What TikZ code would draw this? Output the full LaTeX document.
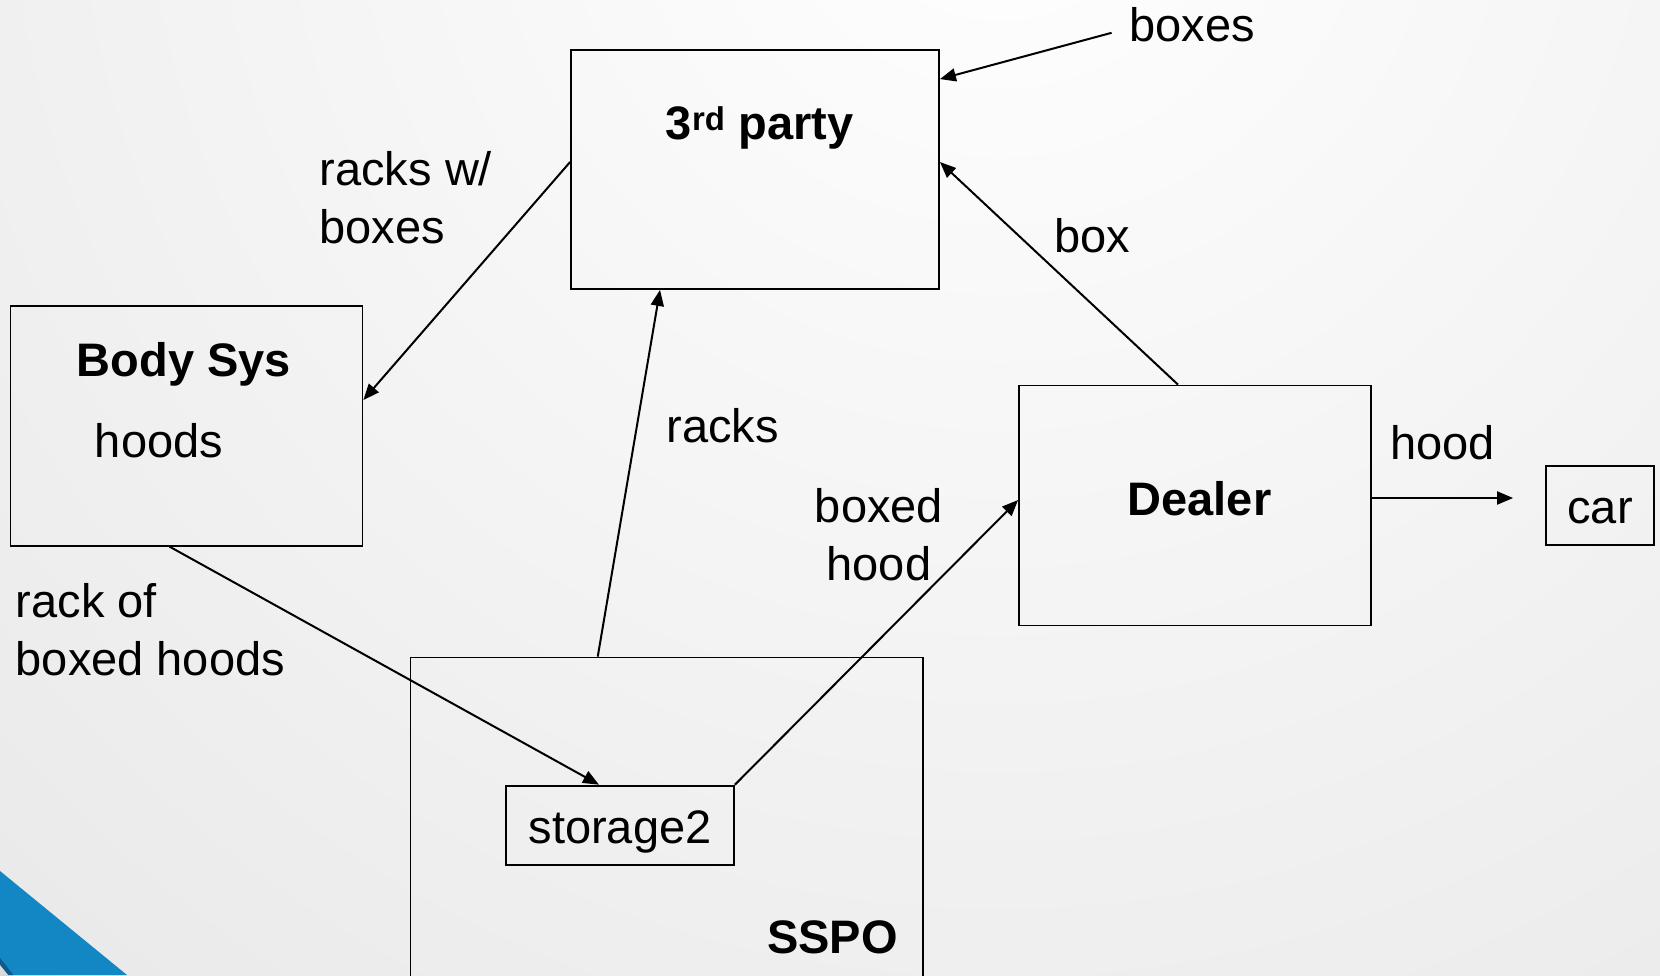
\documentclass[tikz,border=0pt]{standalone}
\usepackage{fontspec}
\setmainfont{Liberation Sans}
\usetikzlibrary{arrows.meta,calc}
\definecolor{cornerblue}{HTML}{1387C4}
\definecolor{cornerdark}{HTML}{0F5A8C}
\definecolor{bgouter}{HTML}{D6D6D6}
\tikzset{ box/.style={draw,line width=1.8pt,inner sep=0pt},
  txt/.style={font=\fontsize{47}{58}\selectfont,inner sep=0pt},
  btxt/.style={font=\fontsize{47}{58}\selectfont\bfseries,inner sep=0pt} }

\begin{document}
\begin{tikzpicture}[x=1pt,y=-1pt,->,>={Triangle[length=16pt,width=13pt]},line width=2pt]
  \useasboundingbox (0,0) rectangle (1660,975);
  \begin{scope}
    \clip (0,0) rectangle (1660,975);
    \shade[inner color=white,outer color=bgouter] (1000,-150) circle[radius=2800pt];
    \fill[cornerblue] (0,871) -- (127,975) -- (0,975) -- cycle;
    \fill[cornerdark] (0,958) -- (13.5,975) -- (8,975) -- (0,965) -- cycle;
    \fill[bgouter!90!white] (0,965) -- (8,975) -- (0,975) -- cycle;
  \end{scope}
  \node[box,minimum width=368pt,minimum height=239pt] (party) at (755,169.5) {};
  \node[btxt] (partyname) at (759.7,127.5) {3\textsuperscript{rd} party};
  \node[box,minimum width=352pt,minimum height=240pt] (body) at (186.5,425.7) {};
  \node[btxt] (bodyname) at (184,364.5) {Body Sys};
  \node[txt] (hoods) at (159,441) {hoods};
  \node[box,minimum width=352pt,minimum height=240pt] (dealer) at (1195,505.5) {};
  \node[btxt] (dealername) at (1199.5,499) {Dealer};
  \node[box,txt,minimum width=108pt,minimum height=79pt,text height=36pt,text depth=0pt] (car) at (1600,505.5) {car};
  \node[box,minimum width=512.5pt,minimum height=342.5pt] (sspo) at (666.75,828.75) {};
  \node[btxt] (ssponame) at (832.5,937.5) {SSPO};
  \node[box,txt,minimum width=228pt,minimum height=79.4pt,text height=47pt,text depth=10pt] (storage) at (620,825.3) {storage2};
  \node[txt,align=left,anchor=west] (racksboxes) at (318.7,198) {racks w/\\boxes};
  \node[txt,align=left,anchor=west] (rackof) at (14.8,630) {rack of\\boxed hoods};
  \node[txt] (racks) at (722.5,425.6) {racks};
  \node[txt,align=center] (boxedhood) at (879,534.5) {boxed\\hood};
  \node[txt] (boxlbl) at (1092,236) {box};
  \node[txt] (hoodlbl) at (1442.5,442.6) {hood};
  \node[txt] (boxes) at (1192,25) {boxes};
  \coordinate (boxestail) at (1111.6,32.8);
  \draw (boxestail) -- ([yshift=-30pt]party.north east);
  \draw ([yshift=7.5pt]party.west) -- ([yshift=25.7pt]body.east);
  \draw ([xshift=-17pt]body.south) -- ([xshift=-21pt]storage.north);
  \draw ([xshift=-69pt]sspo.north) -- ([xshift=-95pt]party.south);
  \draw (storage.north east) -- ([yshift=5.5pt]dealer.west);
  \draw ([xshift=-17pt]dealer.north) -- ([yshift=7.5pt]party.east);
  \draw ([yshift=7.5pt]dealer.east) -- ([xshift=-32pt,yshift=7.5pt]car.west);
\end{tikzpicture}
\end{document}
